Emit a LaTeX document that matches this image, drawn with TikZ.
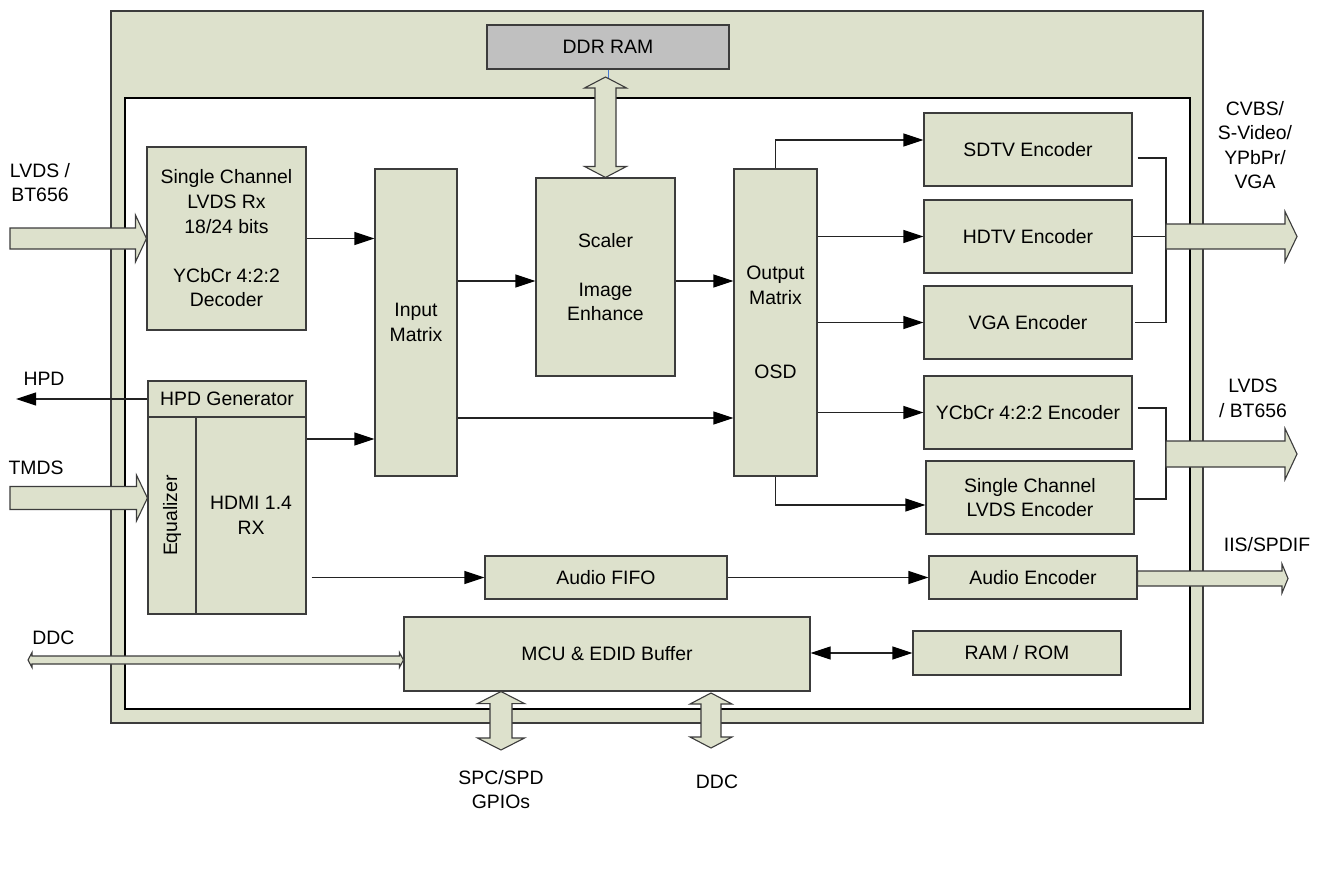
\documentclass[tikz,border=0pt]{standalone}
\usepackage{fontspec}
\setmainfont{Liberation Sans}
\usetikzlibrary{arrows.meta,calc}
\definecolor{boxfill}{RGB}{221,225,204}
\definecolor{ddrfill}{RGB}{192,192,192}
\definecolor{linec}{RGB}{60,60,60}
\definecolor{connc}{RGB}{35,35,35}
\definecolor{tickblue}{RGB}{70,120,210}
\newcommand{\lbl}{\fontsize{19.4}{24.6}\selectfont}
% right-pointing block arrow: start, tip, shaft half width, head half width, head length
\newcommand{\rblockarrow}[5]{%
  \path[blockarr] let \p1=(#1), \p2=(#2) in
    (\x1,\y1+#3) -- (\x2-#5,\y1+#3) -- (\x2-#5,\y1+#4) -- (\x2,\y1) --
    (\x2-#5,\y1-#4) -- (\x2-#5,\y1-#3) -- (\x1,\y1-#3) -- cycle;}
% horizontal double block arrow: left tip, right tip, shaft half, head half, head length
\newcommand{\hdblockarrow}[5]{%
  \path[blockarr] let \p1=(#1), \p2=(#2) in
    (\x1,\y1) -- (\x1+#5,\y1+#4) -- (\x1+#5,\y1+#3) -- (\x2-#5,\y1+#3) --
    (\x2-#5,\y1+#4) -- (\x2,\y1) -- (\x2-#5,\y1-#4) -- (\x2-#5,\y1-#3) --
    (\x1+#5,\y1-#3) -- (\x1+#5,\y1-#4) -- cycle;}
% vertical double block arrow: top tip, bottom tip, shaft half, head half, head length
\newcommand{\vdblockarrow}[5]{%
  \path[blockarr] let \p1=(#1), \p2=(#2) in
    (\x1,\y1) -- (\x1+#4,\y1-#5) -- (\x1+#3,\y1-#5) -- (\x1+#3,\y2+#5) --
    (\x1+#4,\y2+#5) -- (\x1,\y2) -- (\x1-#4,\y2+#5) -- (\x1-#3,\y2+#5) --
    (\x1-#3,\y1-#5) -- (\x1-#4,\y1-#5) -- cycle;}
\begin{document}
\begin{tikzpicture}[x=1pt,y=-1pt,
  blk/.style={draw=linec, fill=boxfill, line width=1.1pt, inner sep=0pt, align=center, font=\lbl},
  lab/.style={inner sep=0pt, align=center, font=\lbl},
  conn/.style={draw=connc, line width=1.1pt},
  arr/.style={conn, -{Triangle[length=20pt,width=13pt,color=black]}},
  darr/.style={conn, {Triangle[length=20pt,width=13pt,color=black]}-{Triangle[length=20pt,width=13pt,color=black]}},
  blockarr/.style={draw=linec, fill=boxfill, line width=1.1pt, line join=miter}]
\useasboundingbox (0,0) rectangle (1326,886);

% frame
\path[draw=linec, fill=boxfill, line width=1.3pt] (111,11) rectangle (1203,723);
\path[draw=black, fill=white, line width=1.3pt] (125,98) rectangle (1190,709);

% boxes
\node[blk, fill=ddrfill, minimum width=242pt, minimum height=44pt] (ddr) at (608,47) {DDR RAM};
\node[blk, minimum width=159pt, minimum height=183pt] (lvdsrx) at (226.5,238.5)
  {Single Channel\\LVDS Rx\\18/24 bits\\[24.6pt]YCbCr 4:2:2\\Decoder};
\node[blk, minimum width=158pt, minimum height=36pt] (hpdgen) at (227,399) {HPD Generator};
\node[blk, minimum width=48pt, minimum height=197pt] (eq) at (172,515.5) {};
\node[lab, rotate=90] (eqtext) at (eq.center) {Equalizer};
\node[blk, minimum width=110pt, minimum height=197pt] (hdmi) at (251,515.5) {HDMI 1.4\\RX};
\node[blk, minimum width=82pt, minimum height=307pt] (inmat) at (416,322.5) {Input\\Matrix};
\node[blk, minimum width=139pt, minimum height=198pt] (scaler) at (605.5,277)
  {Scaler\\[24.6pt]Image\\Enhance};
\node[blk, minimum width=83pt, minimum height=307pt] (outmat) at (775.5,322.5)
  {Output\\Matrix\\[49.2pt]OSD};
\node[blk, minimum width=208pt, minimum height=73pt] (sdtv) at (1028,149.5) {SDTV Encoder};
\node[blk, minimum width=208pt, minimum height=73pt] (hdtv) at (1028,236.5) {HDTV Encoder};
\node[blk, minimum width=208pt, minimum height=73pt] (vga) at (1028,322.5) {VGA Encoder};
\node[blk, minimum width=208pt, minimum height=73pt] (ycbcr) at (1028,412.5) {YCbCr 4:2:2 Encoder};
\node[blk, minimum width=208pt, minimum height=73pt] (lvdsenc) at (1030,497.5)
  {Single Channel\\LVDS Encoder};
\node[blk, minimum width=208pt, minimum height=43pt] (audenc) at (1033,577.5) {Audio Encoder};
\node[blk, minimum width=208pt, minimum height=44pt] (ramrom) at (1017,653) {RAM / ROM};
\node[blk, minimum width=242pt, minimum height=43pt] (fifo) at (606,577.5) {Audio FIFO};
\node[blk, minimum width=406pt, minimum height=74pt] (mcu) at (607,654) {MCU \& EDID Buffer};

% free end points
\coordinate (lvdsin) at (10,238.5);
\coordinate (tmdsin) at (10,498);
\coordinate (hpdout) at (16,399);
\coordinate (ddcin) at (28,660);
\coordinate (busA) at (1166,0);
\coordinate (out1tip) at (1297,236.5);
\coordinate (out2tip) at (1297,454);
\coordinate (out3tip) at (1288,578.5);
\coordinate (spcbot) at (501,750);
\coordinate (ddcbot) at (711,748);

% connectors
\draw[arr] (lvdsrx.east) -- (lvdsrx.east -| inmat.west);
\draw[arr] (hdmi.east |- 0,439) -- (inmat.west |- 0,439);
\draw[arr] (inmat.east |- 0,281) -- (scaler.west |- 0,281);
\draw[arr] (scaler.east |- 0,281) -- (outmat.west |- 0,281);
\draw[arr] (inmat.east |- 0,418) -- (outmat.west |- 0,418);
\draw[arr] (outmat.north) |- (sdtv.west |- 0,140);
\draw[arr] (outmat.east |- hdtv.west) -- (hdtv.west);
\draw[arr] (outmat.east |- vga.west) -- (vga.west);
\draw[arr] (outmat.east |- ycbcr.west) -- (ycbcr.west);
\draw[arr] (outmat.south) |- (lvdsenc.west |- 0,505);
\draw[arr] (hpdgen.west) -- (hpdout);
\draw[arr] ($(hdmi.east |- fifo.west)+(5,0)$) -- (fifo.west);
\draw[arr] (fifo.east) -- (audenc.west);
\draw[darr] (mcu.east |- ramrom.west) -- (ramrom.west);

% output buses
\draw[conn] ($(sdtv.east)+(5,8.5)$) -| (busA |- vga.east) -- ($(vga.east)+(2,0)$);
\draw[conn] (hdtv.east) -- (busA |- hdtv.east);
\draw[conn] ($(ycbcr.east)+(5,-4.5)$) -| (busA |- 0,499) -- ($(lvdsenc.east)+(0,1.5)$);

% DDR link
\draw[tickblue, line width=1pt] (ddr.south) -- ++(0,9);

% block arrows
\rblockarrow{lvdsin}{lvdsrx.west}{10.5pt}{23.5pt}{11pt}
\rblockarrow{tmdsin}{eq.west |- tmdsin}{11.5pt}{23pt}{11pt}
\rblockarrow{busA |- out1tip}{out1tip}{12.5pt}{25pt}{12pt}
\rblockarrow{busA |- out2tip}{out2tip}{13pt}{25.5pt}{12pt}
\rblockarrow{audenc.east |- out3tip}{out3tip}{7.5pt}{14.5pt}{6pt}
\hdblockarrow{ddcin}{mcu.west |- ddcin}{4pt}{7.5pt}{4pt}
\vdblockarrow{scaler.north |- 0,77}{scaler.north}{10.5pt}{21pt}{11pt}
\vdblockarrow{spcbot |- mcu.south}{spcbot}{11pt}{23.5pt}{12pt}
\vdblockarrow{ddcbot |- 0,693}{ddcbot}{10pt}{21pt}{11pt}

% labels
\node[lab] (lvdsinlbl) at (40,182.5) {LVDS /\\BT656};
\node[lab] (hpdlbl) at (44,379) {HPD};
\node[lab] (tmdslbl) at (36,468) {TMDS};
\node[lab] (ddclbl) at (53.5,638) {DDC};
\node[lab] (cvbslbl) at (1255,145) {CVBS/\\S-Video/\\YPbPr/\\VGA};
\node[lab] (lvdsoutlbl) at (1253,398.5) {LVDS\\/ BT656};
\node[lab] (iislbl) at (1267,545) {IIS/SPDIF};
\node[lab] (spclbl) at (501,789.5) {SPC/SPD\\GPIOs};
\node[lab] (ddcbotlbl) at (717,782) {DDC};
\end{tikzpicture}
\end{document}
